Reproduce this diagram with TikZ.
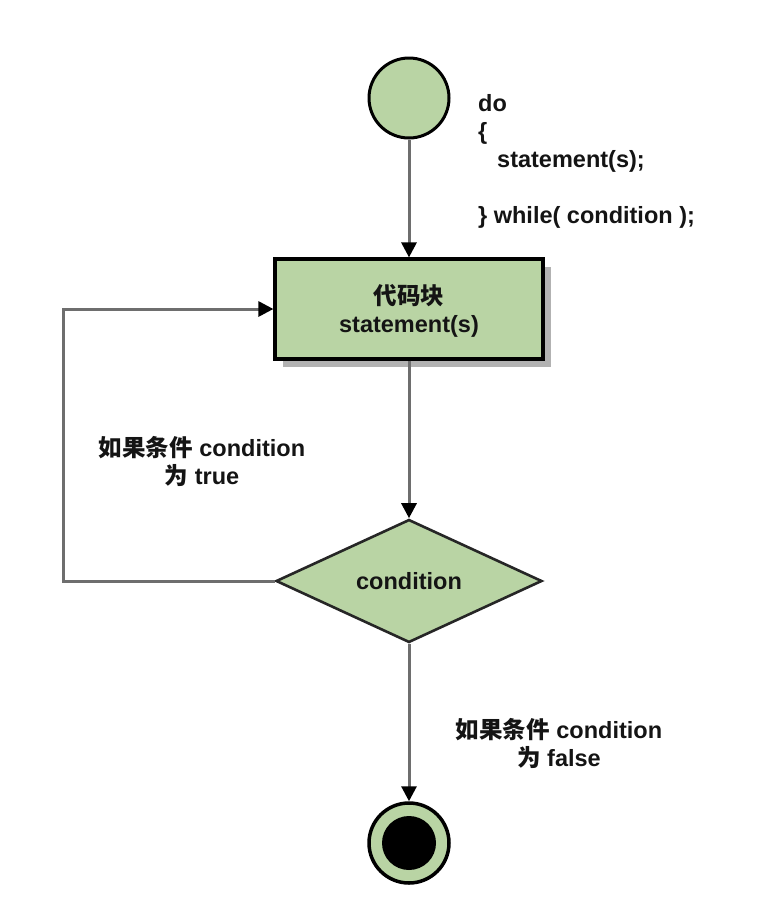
\documentclass[tikz,border=0pt]{standalone}
\usepackage{fontspec}
\setmainfont{Liberation Sans}
\newfontfamily\cjk{Noto Sans CJK SC}
\usetikzlibrary{arrows.meta,shapes.geometric,shadows}
\definecolor{gfill}{HTML}{B9D4A4}
\definecolor{lgray}{HTML}{6E6E6E}
\definecolor{txt}{HTML}{141414}
\tikzset{
  every node/.style={font=\fontsize{23.5}{28}\selectfont\bfseries, text=txt},
  flow/.style={draw=lgray, line width=3pt, -{Triangle[length=15pt,width=15pt,color=black]}},
  startc/.style={circle, draw=black, line width=3pt, fill=gfill, minimum size=80pt, inner sep=0pt},
  blockbox/.style={rectangle, draw=black, line width=3.2pt, fill=gfill, minimum width=268pt, minimum height=100pt, align=center,
    drop shadow={shadow xshift=8pt, shadow yshift=-8pt, fill=black!30, opacity=1}},
  decision/.style={diamond, draw=black!85, line width=2.6pt, fill=gfill, minimum width=266pt, minimum height=120pt, inner sep=0pt},
  endc/.style={circle, draw=black, line width=3.5pt, fill=gfill, minimum size=80pt, inner sep=0pt,
    path picture={\fill[black] (path picture bounding box.center) circle (27);}},
  lbl/.style={align=center, inner sep=0pt}
}
\begin{document}
\begin{tikzpicture}[x=1pt,y=-1pt]
\useasboundingbox[fill=white] (0,0) rectangle (782,916);
\node[startc] (start) at (409,98) {};
\node[lbl, align=left, anchor=north west] (code) at (478,94) {do\\\{\\\hspace{19pt}statement(s);\\[28pt]\} while( condition );};
\node[blockbox] (block) at (409,309) {};
\node[lbl] (blocktxt) at (409,311) {{\cjk 代码块}\\statement(s)};
\node[decision] (cond) at (409,581) {condition};
\node[endc] (stop) at (409,843) {};
\coordinate (loopL) at (63,581);
\node[lbl] (truel) at (202,461) {{\cjk 如果条件} condition\\{\cjk 为} true};
\node[lbl] (falsel) at (559,743) {{\cjk 如果条件} condition\\{\cjk 为} false};
\draw[flow] (start) -- (block);
\draw[flow] (block) -- (cond);
\draw[flow] (cond.west) -- (loopL) |- (block.west);
\draw[flow] (cond) -- (stop);
\end{tikzpicture}
\end{document}
